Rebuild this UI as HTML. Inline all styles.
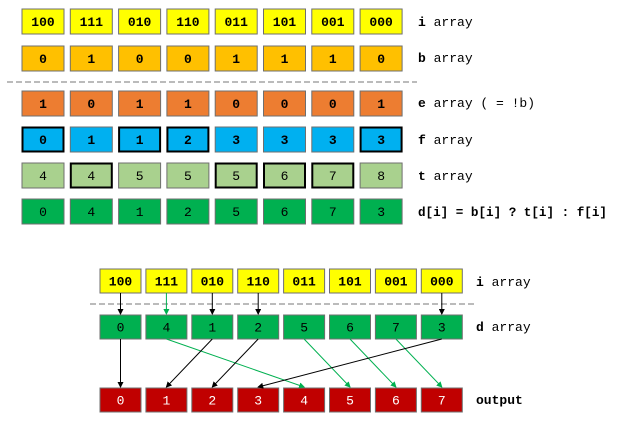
<!DOCTYPE html>
<html><head><meta charset="utf-8">
<style>
html,body{margin:0;padding:0;background:#fff;}
svg{display:block;}
text{font-family:"Liberation Mono","DejaVu Sans Mono",monospace;}
</style></head>
<body>
<svg id="chart" width="620" height="422" viewBox="0 0 620 422" xmlns="http://www.w3.org/2000/svg">
<defs>
<marker id="ahk" markerWidth="6" markerHeight="6" refX="5" refY="3" orient="auto" markerUnits="userSpaceOnUse"><path d="M0,0 L6,3 L0,6 z" fill="#000"/></marker>
<marker id="ahg" markerWidth="6" markerHeight="6" refX="5" refY="3" orient="auto" markerUnits="userSpaceOnUse"><path d="M0,0 L6,3 L0,6 z" fill="#00b050"/></marker>
</defs>
</svg>
<script>
const iArr = ["100","111","010","110","011","101","001","000"];
const bArr = [0,1,0,0,1,1,1,0];
const eArr = [1,0,1,1,0,0,0,1];
const fArr = [0,1,1,2,3,3,3,3];
const tArr = [4,4,5,5,5,6,7,8];
const dArr = [0,4,1,2,5,6,7,3];
const outArr = [0,1,2,3,4,5,6,7];

const svg = document.getElementById('chart');
const NS = 'http://www.w3.org/2000/svg';
function mk(tag, attrs){const e=document.createElementNS(NS,tag);for(const k in attrs)e.setAttribute(k,attrs[k]);svg.appendChild(e);return e;}

const tx0=22, tStep=48.3, tW=42, tH=25;
function topX(i){return tx0+i*tStep;}
function row(vals, y, fill, name, bold, boldIdx, txtColor){
  vals.forEach((v,i)=>{
    const thick = boldIdx && boldIdx[i];
    const r = mk('rect',{x:topX(i)+(thick?0.5:0), y:y+(thick?0.5:0), width:tW-(thick?1:0), height:tH-(thick?1:0), fill:fill, stroke:thick?'#000':'#6f6f6f', 'stroke-width':thick?2:1});
    
    
    const t = mk('text',{x:topX(i)+tW/2, y:y+tH/2+4.5, 'text-anchor':'middle','font-size':13,'font-weight':bold?'bold':'normal',fill:txtColor||'#000'});
    t.textContent=String(v);
    
    
  });
}
function label(x,y,boldPart,rest,name){
  const t=mk('text',{x:x,y:y,'font-size':13,fill:'#000'});
  t.innerHTML='<tspan font-weight="bold">'+boldPart+'</tspan>'+rest;
  
  
}
row(iArr,9,'#ffff00','i-array',true);
row(bArr,46,'#ffc000','b-array',true);
row(eArr,91,'#ed7d31','e-array',true);
row(fArr,127,'#00b0f0','f-array',true,eArr.map(v=>v===1));
row(tArr,163,'#a9d18e','t-array',false,bArr.map(v=>v===1));
row(dArr,199,'#00b050','d-array',false);
label(418,26,'i',' array','i-array-label');
label(418,62,'b',' array','b-array-label');
label(418,107,'e',' array ( = !b)','e-array-label');
label(418,144,'f',' array','f-array-label');
label(418,180,'t',' array','t-array-label');
const dl=mk('text',{x:418,y:216,'font-size':12.6,'font-weight':'bold',fill:'#000'});
dl.textContent='d[i] = b[i] ? t[i] : f[i]';


const sep1=mk('line',{x1:7,y1:82,x2:417,y2:82,stroke:'#777','stroke-width':1,'stroke-dasharray':'6,3'});



const bx0=100, bStep=45.9, bW=41, bH=24;
function botX(i){return bx0+i*bStep;}
function brow(vals,y,fill,name,bold,txtColor){
  vals.forEach((v,i)=>{
    const r=mk('rect',{x:botX(i),y:y,width:bW,height:bH,fill:fill,stroke:'#6f6f6f','stroke-width':1});
    
    
    const t=mk('text',{x:botX(i)+bW/2,y:y+bH/2+4.5,'text-anchor':'middle','font-size':13,'font-weight':bold?'bold':'normal',fill:txtColor||'#000'});
    t.textContent=String(v);
    
    
  });
}
const yI=269, yD=315, yO=388;
brow(iArr,yI,'#ffff00','bottom-i-array',true);
brow(dArr,yD,'#00b050','bottom-d-array',false);
brow(outArr,yO,'#c00000','output-array',false,'#fff');
label(476,286,'i',' array','bottom-i-array-label');
label(476,331,'d',' array','bottom-d-array-label');
const ol=mk('text',{x:476,y:404,'font-size':13,'font-weight':'bold',fill:'#000'});
ol.textContent='output';


const sep2=mk('line',{x1:90,y1:304,x2:475,y2:304,stroke:'#777','stroke-width':1,'stroke-dasharray':'6,3'});



const iToD = [0,1,2,3,7];
iToD.forEach(i=>{
  const g = bArr[i]===1;
  const cx=botX(i)+bW/2;
  const l=mk('line',{x1:cx,y1:yI+bH,x2:cx,y2:yD-1,stroke:g?'#00b050':'#000','stroke-width':1,'marker-end':g?'url(#ahg)':'url(#ahk)'});
  
  
});
dArr.forEach((v,j)=>{
  const g = bArr[j]===1;
  const x1=botX(j)+bW/2, x2=botX(v)+bW/2;
  const l=mk('line',{x1:x1,y1:yD+bH,x2:x2,y2:yO-1,stroke:g?'#00b050':'#000','stroke-width':1,'marker-end':g?'url(#ahg)':'url(#ahk)'});
  
  
});
</script>
</body></html>
